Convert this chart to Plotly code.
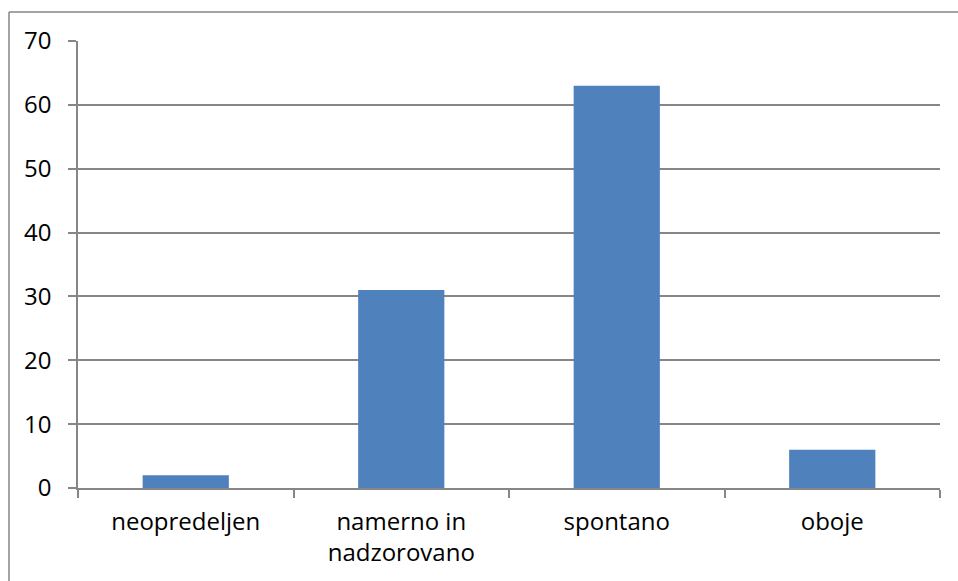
import plotly.graph_objects as go

categories = ["neopredeljen", "namerno in<br>nadzorovano", "spontano", "oboje"]
values = [2, 31, 63, 6]
y_ticks = [0, 10, 20, 30, 40, 50, 60, 70]

W, H = 958, 581
L, R, T, B = 78, 18, 41, 93
pw, ph = W - L - R, H - T - B

fig = go.Figure(go.Bar(x=categories, y=values, marker=dict(color="#4F81BD", line=dict(width=0))))

grid = "#868686"
bx0 = (9 - L) / pw
by1 = 1 + (T - 12) / ph
fig.update_layout(
    width=W, height=H,
    margin=dict(l=L, r=R, t=T, b=B, pad=0),
    paper_bgcolor="white", plot_bgcolor="white",
    font=dict(family="Open Sans", size=24, color="#000000"),
    bargap=0.6,
    showlegend=False,
    xaxis=dict(
        type="category", showgrid=False, showline=True, linecolor=grid, linewidth=1.5,
        ticks="outside", ticklen=8, tickcolor=grid, tickwidth=1.5, tickson="boundaries",
        ticklabelstandoff=11,
    ),
    yaxis=dict(
        range=[0, 70], tickvals=y_ticks, showgrid=True, gridcolor=grid, gridwidth=1.5,
        showline=True, linecolor=grid, linewidth=1.5, zeroline=False,
        ticks="outside", ticklen=8, tickcolor=grid, tickwidth=1.5,
        ticklabelstandoff=12,
    ),
    shapes=[
        dict(type="line", xref="paper", yref="paper",
             x0=bx0, x1=1.05, y0=by1, y1=by1,
             line=dict(color=grid, width=1.5), layer="above"),
        dict(type="line", xref="paper", yref="paper",
             x0=bx0, x1=bx0, y0=-0.3, y1=by1,
             line=dict(color=grid, width=1.5), layer="above"),
    ],
)

fig.write_html("out.html")
